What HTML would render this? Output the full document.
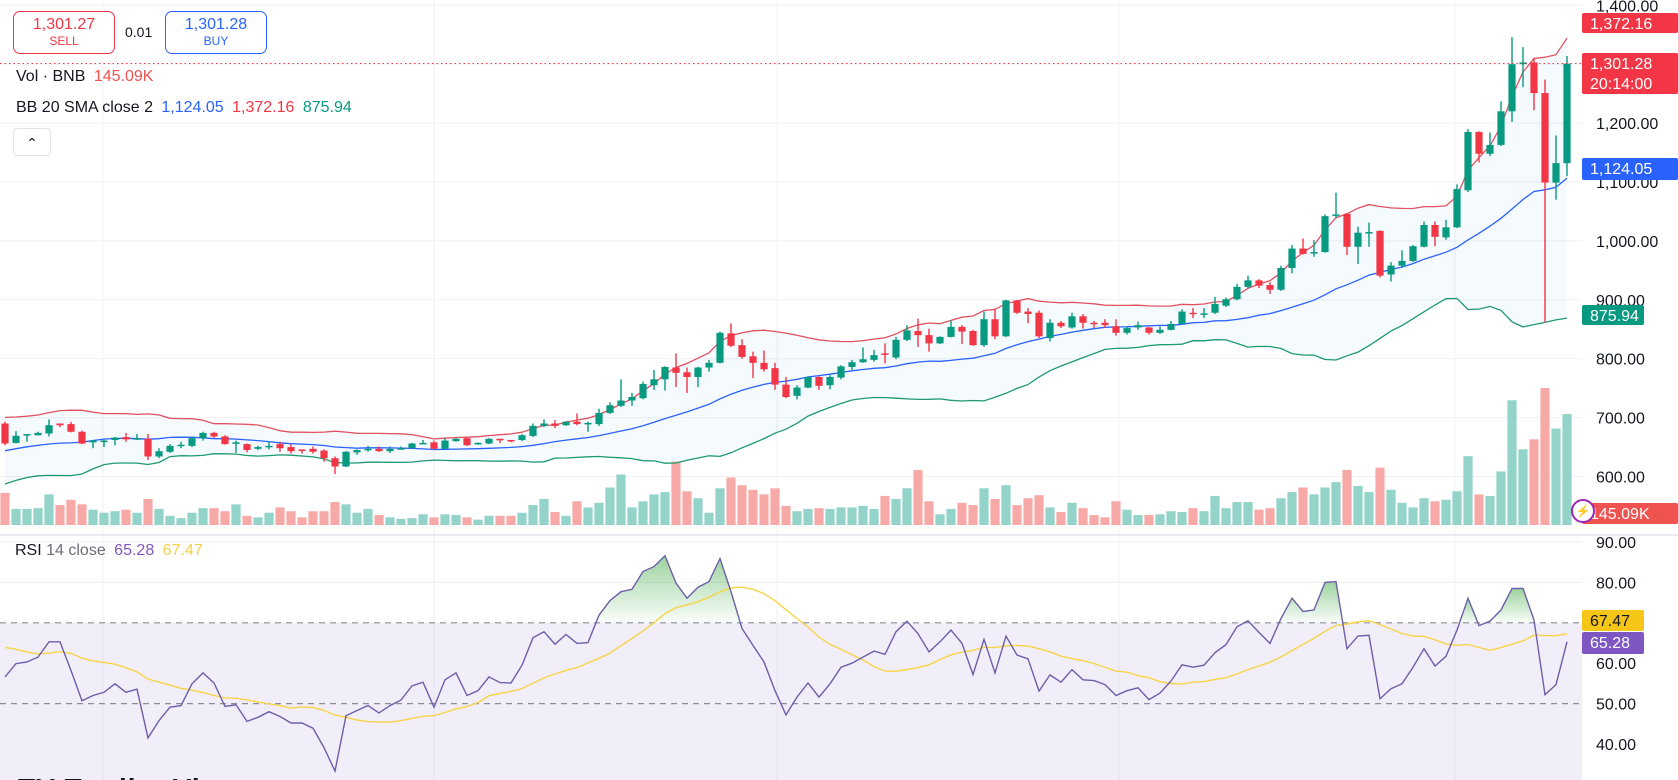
<!DOCTYPE html>
<html><head><meta charset="utf-8"><style>
html,body{margin:0;padding:0;background:#fff;overflow:hidden}
svg{display:block;font-family:"Liberation Sans",sans-serif}
</style></head><body>
<svg id="chart" width="1678" height="780" viewBox="0 0 1678 780" xmlns="http://www.w3.org/2000/svg">
<defs>
<clipPath id="clipPrice"><rect x="0" y="0" width="1582" height="530"/></clipPath>
<clipPath id="clipRsi"><rect x="0" y="537" width="1582" height="243"/></clipPath>
<linearGradient id="obGrad" x1="0" y1="0" x2="0" y2="1">
<stop offset="0" stop-color="#4caf50" stop-opacity="0.55"/><stop offset="1" stop-color="#4caf50" stop-opacity="0.03"/>
</linearGradient>
</defs>
<g id="grid"></g>
<g id="pricePane" clip-path="url(#clipPrice)"></g>
<g id="rsiPane" clip-path="url(#clipRsi)"></g>
<g id="axis"></g>
<g id="overlay"></g>
</svg>
<script>
const priorCloses=[600,610,625,640,655,670,630,605,615,640,660,680,650,625,610,645,670,690,700];
const opens=[690,657,670,670,673,690,689,676,658,659,662,667,664,664,634,642,652,652,665,674,668,657,655,647,650,655,650,646,647,644,631,617,641,645,647,643,647,648,656,658,647,660,665,655,656,664,662,
662,669,686,690,687,693,690,689,708,720,729,733,755,765,785,777,769,785,793,843,823,804,793,784,756,737,751,769,755,768,786,794,798,809,802,832,847,840,826,837,854,847,823,867,838,899,880,
878,835,861,853,872,861,861,855,844,853,853,844,849,859,878,876,878,890,901,922,933,925,917,954,987,979,981,1043,1046,990,1014,1017,943,958,966,990,1027,1006,1023,1086,1185,1148,1163,1220,1300,1303,1251,1099,1132];
const closes=[656,669,672,674,687,687,676,656,661,661,666,663,665,634,643,652,654,665,674,668,655,658,645,650,652,648,643,644,642,631,617,642,645,647,643,647,648,656,657,647,661,664,653,657,664,662,661,
670,686,690,686,693,689,691,708,721,729,735,757,765,786,776,769,785,793,844,822,803,793,782,756,735,751,769,754,769,787,794,799,806,808,832,848,840,826,837,854,846,823,867,838,899,878,876,
838,861,855,872,861,859,857,844,852,857,844,849,859,880,877,877,893,901,922,933,924,917,954,987,978,981,1042,1045,990,1014,1015,941,958,966,991,1027,1007,1023,1088,1185,1148,1163,1220,1300,1303,1251,1099,1132,1301];
const highs=[693,677,672,676,697,690,693,678,662,662,667,674,672,672,648,655,659,668,676,676,670,661,656,652,659,659,655,646,651,646,634,643,646,652,651,651,651,657,662,661,665,665,666,658,665,664,662,
672,690,697,696,694,707,693,715,726,765,742,761,781,787,809,785,786,798,846,860,833,812,814,793,769,755,770,770,772,789,798,819,815,826,837,857,868,851,838,865,857,849,880,885,900,900,886,
882,867,864,878,876,864,867,867,855,863,854,855,864,884,886,886,905,904,927,941,935,930,958,993,1004,1001,1045,1082,1047,1024,1031,1018,964,984,993,1033,1033,1036,1096,1190,1186,1184,1237,1346,1329,1311,1274,1179,1314];
const lows=[653,656,659,670,668,684,675,655,648,650,653,659,662,628,631,640,648,650,661,665,654,640,641,645,646,642,639,639,639,625,604,616,637,642,642,640,646,648,655,646,646,659,652,654,655,657,658,
660,667,684,682,686,687,676,686,706,718,720,731,747,746,752,742,752,778,792,820,800,767,778,747,733,731,750,747,748,765,781,793,795,792,799,830,820,812,825,836,825,822,820,833,837,876,860,
835,829,852,851,851,852,852,839,841,849,841,842,848,858,869,869,876,888,899,920,920,910,915,945,977,973,980,1039,976,961,990,938,931,954,964,989,991,1002,1022,1083,1133,1144,1161,1202,1261,1222,861,1070,1110];
const volumes=[42,21,21,22,40,26,33,27,20,16,18,20,16,34,21,12,9,16,22,22,18,27,12,10,16,23,18,10,18,18,30,27,16,21,13,10,8,9,14,10,14,13,10,7,12,12,12,
16,26,34,17,12,31,23,29,49,66,23,31,40,43,83,44,35,16,48,62,52,46,40,48,25,18,21,22,21,23,23,25,21,38,34,48,72,31,14,21,29,26,48,34,52,26,35,39,
23,17,29,22,13,10,31,20,13,13,14,18,17,22,18,38,22,30,30,20,22,35,43,49,40,49,56,72,51,43,75,46,29,23,35,31,33,44,90,40,38,70,163,99,112,179,126,145];
const priorRsi=[66,70,68,63,60,64,67,62,58,61,65,68,66];
const rsiValues=[56.6,59.9,60.3,61.5,65.3,65.3,58.2,50.7,52.0,52.8,54.9,52.8,53.6,41.5,45.8,49.1,49.5,54.9,57.6,55.1,49.3,49.7,45.6,46.6,48.0,46.8,45.2,45.2,43.9,39.1,33.3,47.0,48.3,49.5,47.7,49.5,50.9,54.4,55.3,49.1,55.9,57.6,52.0,53.2,56.6,55.2,55.1,59.5,66.3,67.8,64.7,67.1,64.9,65.1,71.9,75.5,77.7,78.3,82.7,83.9,86.6,79.8,76.1,78.8,80.2,85.9,77.7,68.6,64.4,60.3,53.2,47.2,51.6,
55.1,51.6,54.9,59.0,60.0,61.5,63.0,62.2,67.8,70.4,67.3,62.8,65.3,68.2,64.9,57.2,65.9,57.6,66.7,62.0,61.1,53.1,57.1,55.3,58.4,55.9,55.7,54.7,52.0,53.2,53.9,51.0,52.6,55.6,59.6,59.0,59.5,62.6,64.6,69.0,70.5,67.6,64.9,71.1,76.1,72.8,73.2,80.0,80.2,63.6,66.7,66.9,51.2,53.7,54.9,59.0,63.6,59.3,61.7,68.2,76.1,69.3,70.4,73.2,78.5,78.5,70.7,52.2,54.7,65.3];
const priceTicks=[1400,1300,1200,1100,1000,900,800,700,600];
const rsiTicks=[90,80,60,50,40];
const lastPrice=1301.28;

const NS="http://www.w3.org/2000/svg";
const xOf=i=>5+11*i;
const yP=p=>5.3+(1400-p)*0.589;
const yV=v=>525-v/1.307;
const yR=r=>542+(90-r)*4.04;
function mk(tag,attrs,parent){const e=document.createElementNS(NS,tag);for(const k in attrs)e.setAttribute(k,attrs[k]);parent.appendChild(e);return e;}
const grid=document.getElementById('grid'),pp=document.getElementById('pricePane'),rp=document.getElementById('rsiPane'),ax=document.getElementById('axis'),ov=document.getElementById('overlay');
const GREEN='#089981',RED='#f23645';

[103,434,777,1119,1455].forEach(x=>{const l=mk('line',{x1:x,y1:0,x2:x,y2:780,stroke:'#f0f1f4','stroke-width':1},grid);

});
priceTicks.forEach(p=>{const l=mk('line',{x1:0,y1:yP(p),x2:1582,y2:yP(p),stroke:'#f0f1f4','stroke-width':1},grid);


const t=mk('text',{x:1596,y:yP(p)+6,'font-size':16,fill:'#131722'},ax);t.textContent=p.toLocaleString('en-US',{minimumFractionDigits:2});

});
mk('line',{x1:0,y1:535,x2:1678,y2:535,stroke:'#e0e3eb','stroke-width':1.5},grid);
const band=mk('rect',{x:0,y:yR(70),width:1582,height:yR(30)-yR(70),fill:'#7e57c2','fill-opacity':0.1},rp);


rsiTicks.forEach(r=>{if(r===50)return;const l=mk('line',{x1:0,y1:yR(r),x2:1582,y2:yR(r),stroke:'#eceef2','stroke-width':1},rp);

});
[70,50].forEach(r=>{const l=mk('line',{x1:0,y1:yR(r),x2:1582,y2:yR(r),stroke:'#8a8d99','stroke-width':1.2,'stroke-dasharray':'6 5'},rp);

});
[90,80,70,60,50,40].forEach(r=>{if(r===70)return;const t=mk('text',{x:1596,y:yR(r)+6,'font-size':16,fill:'#131722'},ax);t.textContent=r.toFixed(2);

});

const allC=priorCloses.concat(closes),off=priorCloses.length;
const up=[],mid=[],lo=[];
for(let i=0;i<closes.length;i++){const w=allC.slice(Math.max(0,i+off-19),i+off+1);const m=w.reduce((a,b)=>a+b,0)/w.length;const sd=Math.sqrt(w.reduce((a,b)=>a+(b-m)*(b-m),0)/w.length);mid.push(m);up.push(m+2*sd);lo.push(m-2*sd);}
const pts=a=>a.map((v,i)=>xOf(i)+','+yP(v).toFixed(1)).join(' ');
const bf=mk('polygon',{points:pts(up)+' '+lo.map((v,i)=>xOf(i)+','+yP(v).toFixed(1)).reverse().join(' '),fill:'#2196f3','fill-opacity':0.05},pp);


for(let i=0;i<volumes.length;i++){const g=closes[i]>=opens[i];const r=mk('rect',{x:xOf(i)-4.6,y:yV(volumes[i]),width:9.2,height:525-yV(volumes[i]),fill:g?'#93d3c9':'#f6a9a7'},pp);

}
[[up,'#e0525f','bb-upper-line'],[mid,'#2962ff','bb-basis-line'],[lo,'#1e9a6e','bb-lower-line']].forEach(([a,c,n])=>{const l=mk('polyline',{points:pts(a),fill:'none',stroke:c,'stroke-width':1.3},pp);

});
for(let i=0;i<closes.length;i++){const g=closes[i]>=opens[i],c=g?GREEN:RED,x=xOf(i);
const w=mk('line',{x1:x,y1:yP(highs[i]),x2:x,y2:yP(lows[i]),stroke:c,'stroke-width':1.4},pp);


const t=yP(Math.max(opens[i],closes[i])),b=yP(Math.min(opens[i],closes[i]));
const r=mk('rect',{x:x-3.6,y:t,width:7.2,height:Math.max(1.5,b-t),fill:c},pp);

}
const pl=mk('line',{x1:0,y1:yP(lastPrice),x2:1582,y2:yP(lastPrice),stroke:RED,'stroke-width':1,'stroke-dasharray':'1.5 3'},pp);



const allR=priorRsi.concat(rsiValues),ro=priorRsi.length;const ma=[];
for(let i=0;i<rsiValues.length;i++){const w=allR.slice(Math.max(0,i+ro-13),i+ro+1);ma.push(w.reduce((a,b)=>a+b,0)/w.length);}
const rpts=a=>a.map((v,i)=>xOf(i)+','+yR(v).toFixed(1)).join(' ');
let seg=[];const segs=[];
for(let i=0;i<rsiValues.length;i++){if(rsiValues[i]>70){seg.push(i);}else if(seg.length){segs.push(seg);seg=[];}}
if(seg.length)segs.push(seg);
segs.forEach(s=>{const a=s[0],b=s[s.length-1];const xa=a>0?xOf(a-1)+11*(70-rsiValues[a-1])/(rsiValues[a]-rsiValues[a-1]):xOf(a);
const xb=b<rsiValues.length-1?xOf(b)+11*(rsiValues[b]-70)/(rsiValues[b]-rsiValues[b+1]):xOf(b);
let p=xa+','+yR(70)+' '+s.map(i=>xOf(i)+','+yR(rsiValues[i]).toFixed(1)).join(' ')+' '+xb+','+yR(70);
const f=mk('polygon',{points:p,fill:'url(#obGrad)'},rp);

});
const mal=mk('polyline',{points:rpts(ma),fill:'none',stroke:'#f5d547','stroke-width':1.4},rp);


const rl=mk('polyline',{points:rpts(rsiValues),fill:'none',stroke:'#6c5fa8','stroke-width':1.4},rp);



function tag(y,h,bg,fg,lines,name,w){const g=mk('g',{},ax);


mk('rect',{x:1582,y:y,width:w||96,height:h,rx:2,fill:bg},g);
lines.forEach((s,k)=>{const t=mk('text',{x:1590,y:y+16+k*20,'font-size':16,fill:fg},g);t.textContent=s;});}
tag(13,20,'#f23645','#fff',['1,372.16'],'bb-upper-tag');
tag(53,41,'#f23645','#fff',['1,301.28','20:14:00'],'last-price-tag');
tag(158,22,'#2962ff','#fff',['1,124.05'],'bb-basis-tag');
tag(305,20,'#089981','#fff',['875.94'],'bb-lower-tag',62);
tag(503,21,'#ef5350','#fff',['145.09K'],'volume-tag');
tag(610,21,'#f5c518','#131722',['67.47'],'rsi-ma-tag',62);
tag(632,22,'#7e57c2','#fff',['65.28'],'rsi-tag',62);
</script>
<div style="position:absolute;left:0;top:0;width:1678px;height:780px;overflow:hidden;pointer-events:none;font-family:'Liberation Sans',sans-serif">
<div style="position:absolute;left:13px;top:11px;width:100px;height:41px;border:1.5px solid #f23645;border-radius:7px;background:#fff;color:#f23645;text-align:center;pointer-events:auto">
<div style="font-size:16px;margin-top:4px">1,301.27</div><div style="font-size:12px">SELL</div></div>
<div style="position:absolute;left:125px;top:24px;font-size:14px;color:#131722">0.01</div>
<div style="position:absolute;left:165px;top:11px;width:100px;height:41px;border:1.5px solid #2962ff;border-radius:7px;background:#fff;color:#2962ff;text-align:center;pointer-events:auto">
<div style="font-size:16px;margin-top:4px">1,301.28</div><div style="font-size:12px">BUY</div></div>
<div style="position:absolute;left:16px;top:68px;font-size:16px;color:#131722">Vol · BNB <span style="color:#ef5350;margin-left:4px">145.09K</span></div>
<div style="position:absolute;left:16px;top:99px;font-size:16px;color:#131722">BB 20 SMA close 2 <span style="color:#2962ff;margin-left:4px">1,124.05</span> <span style="color:#f23645;margin-left:4px">1,372.16</span> <span style="color:#089981;margin-left:4px">875.94</span></div>
<div style="position:absolute;left:13px;top:128px;width:36px;height:26px;border:1px solid #e0e3eb;border-radius:4px;background:#fff;text-align:center;font-size:14px;line-height:28px;color:#131722">&#8963;</div>
<div style="position:absolute;left:15px;top:542px;font-size:16px;color:#131722">RSI <span style="color:#6a6d78">14 close</span> <span style="color:#7e57c2;margin-left:4px">65.28</span> <span style="color:#f2d04a;margin-left:4px">67.47</span></div>
<div style="position:absolute;left:18px;top:774px;font-size:28px;font-weight:bold;color:#131722;letter-spacing:1px;line-height:30px">TV TradingView</div>
<div style="position:absolute;left:1571px;top:499px;width:20px;height:20px;border:2px solid #9c27b0;border-radius:50%;background:#fff;color:#9c27b0;font-size:12px;text-align:center;line-height:20px">&#9889;</div>
</div>
</body></html>
